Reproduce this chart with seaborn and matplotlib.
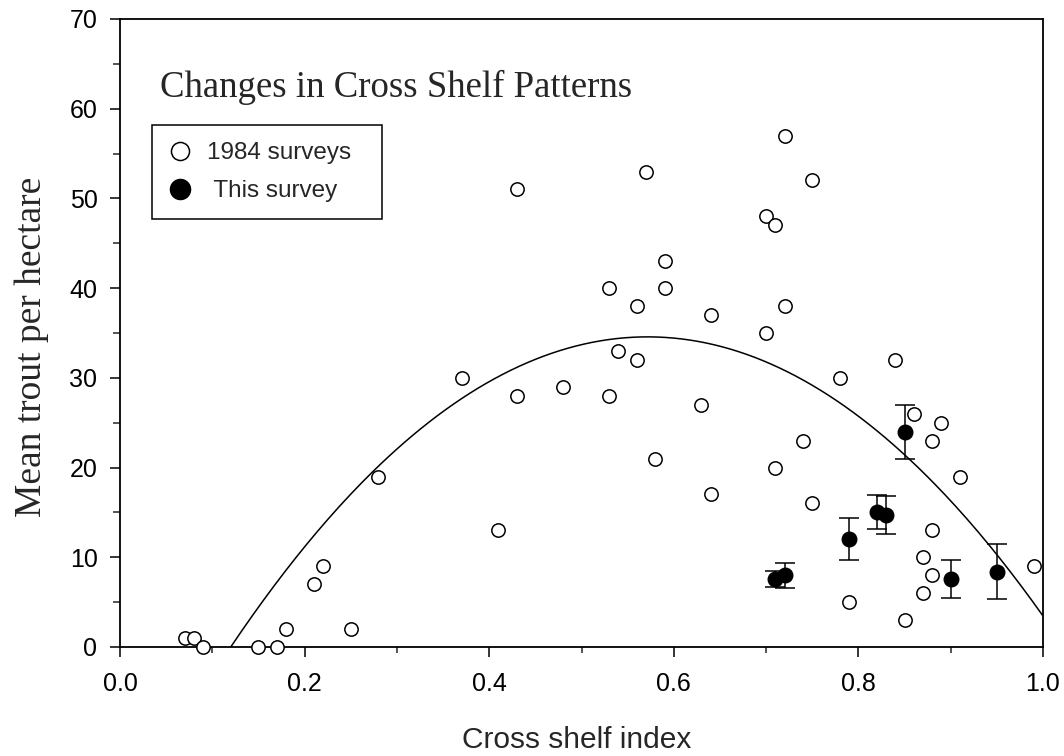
import numpy as np
import pandas as pd
import matplotlib
matplotlib.use("Agg")
import matplotlib.pyplot as plt
import seaborn as sns
from matplotlib.lines import Line2D
from matplotlib.ticker import MultipleLocator

# ---- data ----
x_1984 = [0.07, 0.08, 0.09, 0.15, 0.17, 0.18, 0.21, 0.22, 0.25, 0.28,
          0.37, 0.41, 0.43, 0.43, 0.48, 0.53, 0.53, 0.54, 0.56, 0.56,
          0.57, 0.58, 0.59, 0.59, 0.63, 0.64, 0.64, 0.70, 0.70, 0.71,
          0.71, 0.72, 0.72, 0.74, 0.75, 0.75, 0.78, 0.79, 0.84, 0.85,
          0.86, 0.87, 0.87, 0.88, 0.88, 0.88, 0.89, 0.91, 0.99]
y_1984 = [1, 1, 0, 0, 0, 2, 7, 9, 2, 19,
          30, 13, 51, 28, 29, 40, 28, 33, 38, 32,
          53, 21, 43, 40, 27, 37, 17, 48, 35, 47,
          20, 57, 38, 23, 52, 16, 30, 5, 32, 3,
          26, 10, 6, 23, 13, 8, 25, 19, 9]

x_this = [0.71, 0.72, 0.79, 0.82, 0.83, 0.85, 0.90, 0.95]
y_this = [7.6, 8.0, 12.0, 15.0, 14.7, 24.0, 7.6, 8.4]
err_this = [0.9, 1.4, 2.35, 1.9, 2.1, 3.0, 2.15, 3.1]

# quadratic fit: y = c2*x^2 + c1*x + c0
fit_coef = [-169.5, 193.77, -20.81]

series_labels = ["1984 surveys  ", " This survey"]
title_text = "Changes in Cross Shelf Patterns"
x_label = "Cross shelf index"
y_label = "Mean trout per hectare"
x_ticks = [0.0, 0.2, 0.4, 0.6, 0.8, 1.0]
y_ticks = [0, 10, 20, 30, 40, 50, 60, 70]

# ---- styling ----
sns.set_style("ticks")
plt.rcParams["font.family"] = ["Liberation Sans", "DejaVu Sans"]
serif = ["Liberation Serif", "DejaVu Serif"]

fig = plt.figure(figsize=(10.64, 7.56), dpi=100)
ax = fig.add_axes([120 / 1064, 1 - 647 / 756, 923 / 1064, 628 / 756])

df84 = pd.DataFrame({"x": x_1984, "y": y_1984})
dfthis = pd.DataFrame({"x": x_this, "y": y_this, "err": err_this})

# fitted curve (only where y >= 0)
roots = np.sort(np.real(np.roots(fit_coef)))
xc = np.linspace(roots[0], 1.0, 300)
dfc = pd.DataFrame({"x": xc, "y": np.polyval(fit_coef, xc)})
sns.lineplot(data=dfc, x="x", y="y", color="black", linewidth=1.1,
             estimator=None, sort=False, ax=ax, zorder=2)

# 1984 surveys
sns.scatterplot(data=df84, x="x", y="y", ax=ax, marker="o", s=92,
                color="white", edgecolor="black", linewidth=1.1,
                zorder=3, clip_on=False, legend=False)

# this survey with error bars
ax.errorbar(dfthis["x"], dfthis["y"], yerr=dfthis["err"], fmt="none",
            ecolor="black", elinewidth=1.1, capsize=7, capthick=1.1, zorder=4)
sns.scatterplot(data=dfthis, x="x", y="y", ax=ax, marker="o", s=110,
                color="black", edgecolor="black", linewidth=1.0,
                zorder=5, clip_on=False, legend=False)

# axes
ax.set_xlim(0, 1.0)
ax.set_ylim(0, 70)
ax.set_xticks(x_ticks)
ax.set_xticklabels([f"{v:.1f}" for v in x_ticks])
ax.set_yticks(y_ticks)
ax.set_yticklabels([str(v) for v in y_ticks])
ax.xaxis.set_minor_locator(MultipleLocator(0.1))
ax.yaxis.set_minor_locator(MultipleLocator(5))
ax.tick_params(which="major", direction="out", length=7.2, width=1.1,
               labelsize=18, pad=9, colors="black")
ax.tick_params(axis="x", which="major", pad=11)
ax.tick_params(axis="y", which="minor", direction="out", length=5, width=1.1)
ax.tick_params(axis="x", which="minor", direction="out", length=4.3, width=1.1)
for sp in ax.spines.values():
    sp.set_visible(True)
    sp.set_linewidth(1.3)
    sp.set_color("black")

ax.set_xlabel(x_label, fontsize=21.5)
ax.set_ylabel(y_label, fontsize=27, family=serif)
ax.xaxis.set_label_coords(0.495, -0.1254)
ax.yaxis.set_label_coords(-0.0767, 0.4785)

ax.text(0.0433, 0.8758, title_text, transform=ax.transAxes, fontsize=26.5,
        family=serif, va="baseline", ha="left")

handles = [
    Line2D([], [], marker="o", ls="", mfc="white", mec="black", ms=13, mew=1.1),
    Line2D([], [], marker="o", ls="", mfc="black", mec="black", ms=14.5, mew=1.0),
]
leg = ax.legend(handles, series_labels, loc="upper left",
                bbox_to_anchor=(0.0347, 0.8312), borderaxespad=0,
                fontsize=17.5, frameon=True, fancybox=False, shadow=False,
                borderpad=0.7, handlelength=0.9, handletextpad=0.66,
                labelspacing=0.66)
leg.get_frame().set_edgecolor("black")
leg.get_frame().set_linewidth(1.1)
leg.get_frame().set_facecolor("white")
leg.get_frame().set_alpha(1)

fig.savefig("out.png", dpi=100)
